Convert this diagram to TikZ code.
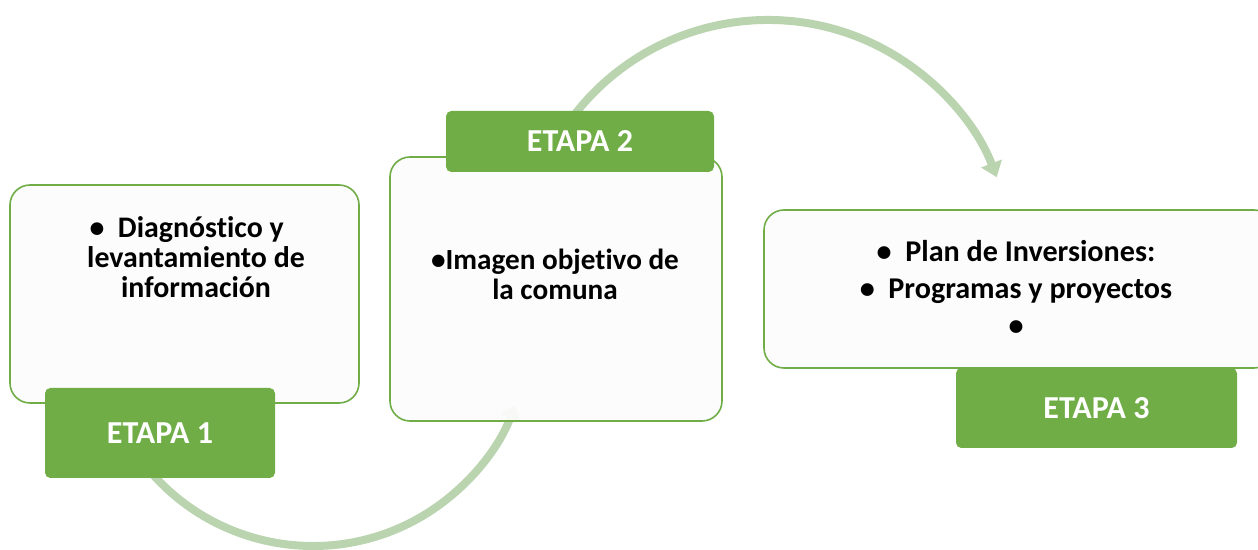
\documentclass[tikz,border=0pt]{standalone}
\usepackage{fontspec}
\setmainfont{Carlito}[Ligatures={CommonOff}]
\usetikzlibrary{arrows.meta,positioning,backgrounds}
\definecolor{etapagreen}{HTML}{70AD47}
\definecolor{arcgreen}{HTML}{BAD4B0}
\definecolor{boxwhite}{HTML}{FCFCFC}
\tikzset{
    infobox/.style={
        rectangle,
        rounded corners=15pt,
        draw=etapagreen,
        line width=1.2pt,
        fill=boxwhite,
        fill opacity=0.94,
        inner sep=0pt
    },
    etapabox/.style={
        rectangle,
        rounded corners=4pt,
        fill=etapagreen,
        text=white,
        font={\fontsize{24pt}{29pt}\selectfont\bfseries},
        inner sep=0pt
    },
    infotext/.style={
        font={\fontsize{22.4pt}{22.5pt}\selectfont\bfseries},
        align=center,
        inner sep=0pt
    },
    cyclearrow/.style={
        draw=arcgreen,
        line width=6pt,
        -{Triangle[width=16pt,length=11pt]}
    },
}

\begin{document}
\begin{tikzpicture}[x=0.75pt,y=0.75pt]
\useasboundingbox (0,0) rectangle (1258,550);

% boxes
\node[infobox,minimum width=261.75pt,minimum height=163.5pt] (box1) at (184.5,256) {};
\node[etapabox,minimum width=172.5pt,minimum height=67.5pt] (etapa1) at (160,117) {ETAPA 1};
\node[infobox,minimum width=249pt,minimum height=198pt] (box2) at (556,261) {};
\node[etapabox,minimum width=201pt,minimum height=45.75pt] (etapa2) at (580,408.5) {ETAPA 2};
\node[infobox,minimum width=382.5pt,minimum height=118.5pt] (box3) at (1019,261) {};
\node[etapabox,minimum width=210.75pt,minimum height=60pt] (etapa3) at (1096.5,142) {ETAPA 3};

% texts
\node[infotext] (text1) at (196,293)
    {\textbullet\ \ Diagnóstico y\hspace*{14pt}\\levantamiento de\\información};
\node[infotext,font={\fontsize{21.9pt}{22.5pt}\selectfont\bfseries}] (text2) at (555,276)
    {\textbullet Imagen objetivo de\\la comuna};
\node[infotext,font={\fontsize{22.6pt}{27.75pt}\selectfont\bfseries}] (text3) at (1016,262)
    {\textbullet\ \ Plan de Inversiones:\\\textbullet\ \ Programas y proyectos\\\textbullet};

% cycle arrows
\coordinate (lowhub) at (313,219);
\coordinate (highhub) at (768,285);
\begin{pgfonlayer}{background}
\draw[cyclearrow] (lowhub) ++(215:215) arc[start angle=215,end angle=340,radius=215];
\draw[cyclearrow] (highhub) ++(150:245) arc[start angle=150,end angle=21,radius=245];
\end{pgfonlayer}
\end{tikzpicture}
\end{document}
